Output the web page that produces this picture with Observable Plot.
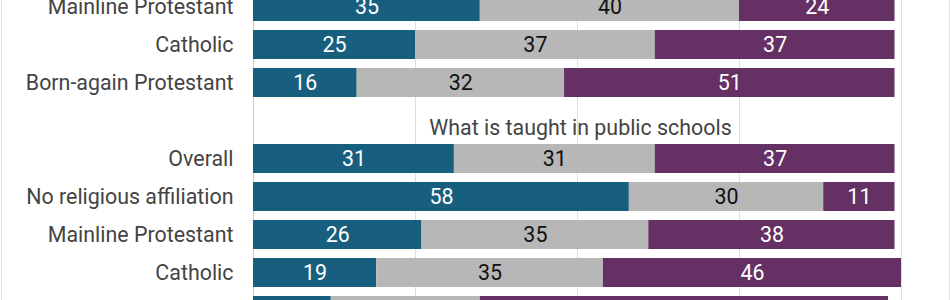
<!DOCTYPE html>
<html>
<head>
<meta charset="utf-8">
<script src="https://cdn.jsdelivr.net/npm/d3@7"></script>
<script src="https://cdn.jsdelivr.net/npm/@observablehq/plot@0.6"></script>
<style>
  body { margin: 0; background: #fff; }
  #wrap { margin-left: 1px; width: 947px; height: 300px; overflow: hidden;
          border-left: 1px solid #e2e2e2; border-right: 1px solid #e2e2e2; }
  #wrap svg { overflow: hidden; }
</style>
</head>
<body>
<div id="wrap"></div>
<script>
// Row labels (top row is partly cut off in the reference view)
const categories = [
  "Mainline Protestant", "Catholic", "Born-again Protestant",
  "What is taught in public schools",
  "Overall", "No religious affiliation", "Mainline Protestant", "Catholic", "Born-again Protestant"
];
const isHeader = [false, false, false, true, false, false, false, false, false];

// Three response series (left / middle / right segments)
const seriesNames = ["Left response", "Neutral", "Right response"];
const seriesLeft   = [35, 25, 16, null, 31, 58, 26, 19, 12];
const seriesMiddle = [40, 37, 32, null, 31, 30, 35, 35, 23];
const seriesRight  = [24, 37, 51, null, 37, 11, 38, 46, 63];
const seriesColors = ["#185e7e", "#b7b7b7", "#653063"];
const gridTicks = [0, 25, 50, 75, 100];

const ids = categories.map((c, i) => `${i}`);
const rows = categories.map((c, i) => ({id: ids[i], label: c, header: isHeader[i]}));
const table = [];
[seriesLeft, seriesMiddle, seriesRight].forEach((vals, s) => {
  vals.forEach((v, i) => {
    if (v != null) table.push({id: ids[i], series: seriesNames[s], value: v});
  });
});

const font = "Roboto, 'Noto Sans', sans-serif";
const fs = 21.4;
const chart = Plot.plot({
  width: 947,
  height: 300,
  marginLeft: 251,
  marginRight: 48,
  marginTop: 0,
  marginBottom: 0,
  style: {fontFamily: font, fontSize: `${fs}px`, background: "white"},
  x: {domain: [0, 100], axis: null},
  y: {type: "band", domain: ids, range: [-18, 336], padding: 0.231, axis: null},
  color: {domain: seriesNames, range: seriesColors},
  marks: [
    Plot.ruleX(gridTicks, {x: d => d, stroke: d => d === 0 ? "#cccccc" : "#dedede", strokeWidth: 1}),
    Plot.barX(table, Plot.stackX({x: "value", y: "id", fill: "series", order: null})),
    Plot.text(table, Plot.stackX({
      x: "value", y: "id", z: "series", order: null, text: "value",
      fill: d => d.series === "Neutral" ? "#111111" : "#ffffff",
      fontSize: fs
    })),
    Plot.text(rows.filter(r => !r.header), {
      x: 0, y: "id", text: "label", textAnchor: "end", dx: -20, fill: "#444444", fontSize: fs
    }),
    Plot.text(rows.filter(r => r.header), {
      x: 50, y: "id", text: "label", textAnchor: "middle", dx: 3, dy: 7, fill: "#444444", fontSize: fs
    })
  ]
});
document.getElementById("wrap").appendChild(chart);
</script>
</body>
</html>
